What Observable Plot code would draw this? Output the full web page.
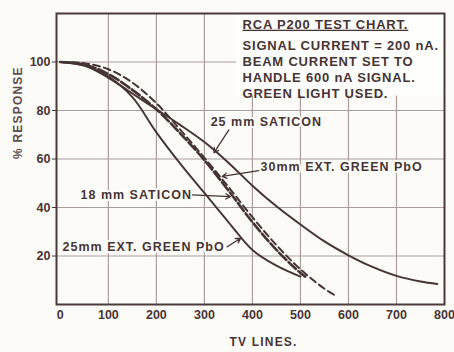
<!DOCTYPE html>
<html><head><meta charset="utf-8">
<script src="https://cdn.jsdelivr.net/npm/d3@7"></script>
<script src="https://cdn.jsdelivr.net/npm/@observablehq/plot@0.6"></script>
<style>
html,body{margin:0;padding:0;background:#fcfbf8;}
.ann-title text{text-decoration:underline;}
.ann text,.ann-title text{letter-spacing:0.8px;}
.curve-label text{letter-spacing:1px;}
.ytitle text,.xtitle text{letter-spacing:1.2px;}
</style></head><body><div id="chart"></div>
<script>
// ---- data ----
const xTicks = [0, 100, 200, 300, 400, 500, 600, 700, 800];
const yTicks = [20, 40, 60, 80, 100];
const gridXTicks = [100, 200, 300, 400, 500, 600, 700];
const gridYTicks = [20, 40, 60, 80, 100];

// 25 mm SATICON (solid)
const sat25X = [0, 50, 100, 150, 200, 250, 300, 350, 400, 450, 500, 550, 600, 650, 700, 750, 785];
const sat25Y = [100, 98.5, 93.5, 87, 80.5, 74, 67, 58.5, 49, 40.5, 33, 26, 20.3, 15.5, 11.8, 9.5, 8.5];
// 25mm EXT. GREEN PbO (solid)
const pbo25X = [0, 50, 100, 150, 200, 250, 300, 350, 400, 450, 500];
const pbo25Y = [100, 98.5, 94, 85.5, 71, 58, 46, 34, 22.5, 16, 11.5];
// 18 mm SATICON (heavy dashed)
const sat18X = [0, 50, 100, 150, 200, 250, 300, 350, 400, 450, 500, 510];
const sat18Y = [100, 99, 95, 88.5, 80.5, 70.5, 59.5, 47, 34, 22.5, 13, 11.5];
// 30mm EXT. GREEN PbO (dashed)
const pbo30X = [0, 50, 100, 150, 200, 250, 300, 350, 400, 450, 500, 550, 570];
const pbo30Y = [100, 99.5, 97, 91.5, 83, 72, 60.5, 48.5, 36, 24.5, 14.5, 6.5, 4];

const labelText = ["25 mm SATICON", "30mm EXT. GREEN PbO", "18 mm SATICON", "25mm EXT. GREEN PbO"];
const labelX = [313, 417, 42, 4.6];
const labelY = [75.4, 56.9, 45.2, 23.8];
const leaderX1 = [351, 413, 275, 347.6];
const leaderY1 = [72, 55.2, 45.2, 23.8];
const leaderX2 = [320, 337, 354, 375.4];
const leaderY2 = [62.6, 52.8, 44.5, 27.3];

const noteTitle = "RCA P200 TEST CHART.";
const noteLines = ["SIGNAL CURRENT = 200 nA.", "BEAM CURRENT SET TO", "HANDLE 600 nA SIGNAL.", "GREEN LIGHT USED."];
const noteBox = [{x1: 367, x2: 800, y1: 86, y2: 120}];

const xTitle = "TV LINES.";
const yTitle = "% RESPONSE";

// ---- build tables ----
const toPts = (xs, ys) => xs.map((x, i) => ({x, y: ys[i]}));
const labels = labelText.map((t, i) => ({t, x: labelX[i], y: labelY[i]}));
const leaders = labelText.map((t, i) => ({x1: leaderX1[i], y1: leaderY1[i], x2: leaderX2[i], y2: leaderY2[i]}));

const ink = "#463434";
const font = "Liberation Sans, Arial, sans-serif";

const chart = Plot.plot({
  width: 454, height: 352,
  marginLeft: 56, marginRight: 10, marginTop: 13, marginBottom: 48,
  x: {domain: [-8, 800]},
  y: {domain: [0, 120]},
  style: {background: "#fcfbf8", fontFamily: font},
  marks: [
    Plot.gridX(gridXTicks, {stroke: "#ab9d9d", strokeOpacity: 1, strokeWidth: 1.2}),
    Plot.gridY(gridYTicks, {stroke: "#ab9d9d", strokeOpacity: 1, strokeWidth: 1.2}),
    Plot.rect(noteBox, {x1: "x1", x2: "x2", y1: "y1", y2: "y2", fill: "#fefefc"}),
    Plot.frame({stroke: "#4a3a3a", strokeWidth: 2}),
    Plot.axisX(xTicks, {tickSize: 0, tickPadding: 6, fontSize: 12.5, fontWeight: "bold", fill: ink, label: null}),
    Plot.axisY(yTicks, {tickSize: 4, tickPadding: 2, fontSize: 12.5, fontWeight: "bold", fill: ink, stroke: ink, label: null}),
    Plot.line(toPts(sat25X, sat25Y), {x: "x", y: "y", curve: "catmull-rom", stroke: ink, strokeWidth: 2}),
    Plot.line(toPts(pbo25X, pbo25Y), {x: "x", y: "y", curve: "catmull-rom", stroke: ink, strokeWidth: 1.9}),
    Plot.line(toPts(sat18X, sat18Y), {x: "x", y: "y", curve: "catmull-rom", stroke: ink, strokeWidth: 2.6, strokeDasharray: "10,3"}),
    Plot.line(toPts(pbo30X, pbo30Y), {x: "x", y: "y", curve: "catmull-rom", stroke: ink, strokeWidth: 2, strokeDasharray: "7,4"}),
    Plot.text(labels, {x: "x", y: "y", text: "t", textAnchor: "start", fontSize: 12.5, fontWeight: "bold", fill: ink, stroke: "#fefefc", strokeWidth: 4, className: "curve-label"}),
    Plot.arrow(leaders, {x1: "x1", y1: "y1", x2: "x2", y2: "y2", stroke: ink, strokeWidth: 1.3, headLength: 6}),
    Plot.text([noteTitle], {frameAnchor: "top-left", dx: 186, dy: 6, lineAnchor: "top", textAnchor: "start", fontSize: 13, fontWeight: "bold", fill: ink, className: "ann-title"}),
    Plot.text([noteLines.join("\n")], {frameAnchor: "top-left", dx: 186, dy: 25, lineAnchor: "top", lineHeight: 1.23, textAnchor: "start", fontSize: 13, fontWeight: "bold", fill: ink, className: "ann"}),
    Plot.text([yTitle], {frameAnchor: "left", dx: -38, rotate: -90, fontSize: 12, fontWeight: "bold", fill: "#5e4e4e", className: "ytitle"}),
    Plot.text([xTitle], {frameAnchor: "bottom", dx: 13, dy: 41, fontSize: 12, fontWeight: "bold", fill: ink, className: "xtitle"})
  ]
});
document.getElementById("chart").appendChild(chart);
</script></body></html>
